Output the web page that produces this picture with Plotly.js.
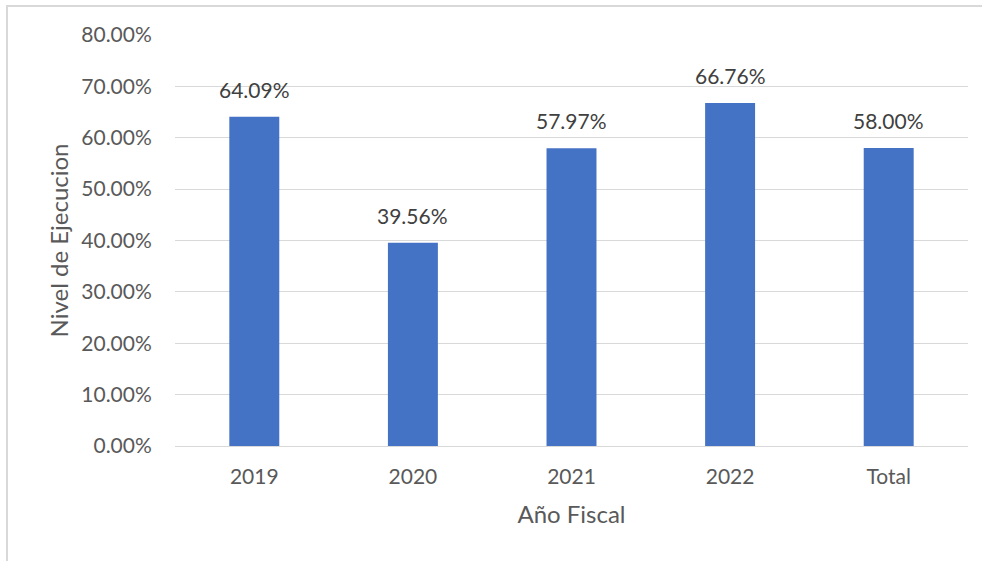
<!DOCTYPE html>
<html><head><meta charset="utf-8">
<script src="https://cdn.plot.ly/plotly-3.0.1.min.js"></script>
<style>html,body{margin:0;padding:0;background:#fff}#c{width:982px;height:561px}</style>
</head><body><div id="c"></div>
<script>
const categories = ["2019", "2020", "2021", "2022", "Total"];
const values = [64.09, 39.56, 57.97, 66.76, 58.00];
const yTicks = [0, 10, 20, 30, 40, 50, 60, 70, 80];

const ml = 175, mr = 14, mt = 35, mb = 115, W = 982, H = 561;
const pw = W - ml - mr, ph = H - mt - mb;
const px = p => (p - ml) / pw;
const py = p => (H - mb - p) / ph;

const font = "Lato, Open Sans, sans-serif";
const labels = categories.map((c, i) => ({
  x: i, y: values[i], xref: 'x', yref: 'y',
  text: values[i].toFixed(2) + '%', showarrow: false,
  yanchor: 'bottom', yshift: 13,
  font: {family: font, size: 21, color: '#404040'}
}));

Plotly.newPlot('c', [{
  type: 'bar', x: categories, y: values,
  marker: {color: '#4472C4'},
  hoverinfo: 'none'
}], {
  width: W, height: H,
  margin: {l: ml, r: mr, t: mt, b: mb, pad: 0},
  paper_bgcolor: '#fff', plot_bgcolor: '#fff',
  bargap: 0.685,
  showlegend: false,
  annotations: labels,
  xaxis: {
    type: 'category', range: [-0.5, categories.length - 0.5],
    showgrid: false, zeroline: false,
    showline: true, linecolor: '#D9D9D9', linewidth: 1,
    ticks: 'outside', ticklen: 12, tickcolor: 'rgba(0,0,0,0)',
    tickfont: {family: font, size: 21, color: '#595959'},
    title: {text: 'Año Fiscal', font: {family: font, size: 24, color: '#595959'}, standoff: 18}
  },
  yaxis: {
    range: [0, 80], tickvals: yTicks, ticktext: yTicks.map(v => v.toFixed(2) + '%'),
    showgrid: true, gridcolor: '#D9D9D9', gridwidth: 1, zeroline: false, showline: false,
    ticks: 'outside', ticklen: 18, tickcolor: 'rgba(0,0,0,0)',
    tickfont: {family: font, size: 21, color: '#595959'},
    title: {text: 'Nivel de Ejecucion', font: {family: font, size: 24, color: '#595959'}, standoff: 5}
  },
  shapes: [{
    type: 'rect', xref: 'paper', yref: 'paper',
    x0: px(7), x1: px(1000), y0: py(6), y1: py(600),
    line: {color: '#D9D9D9', width: 2}, layer: 'below'
  }]
}, {staticPlot: true});
</script></body></html>
